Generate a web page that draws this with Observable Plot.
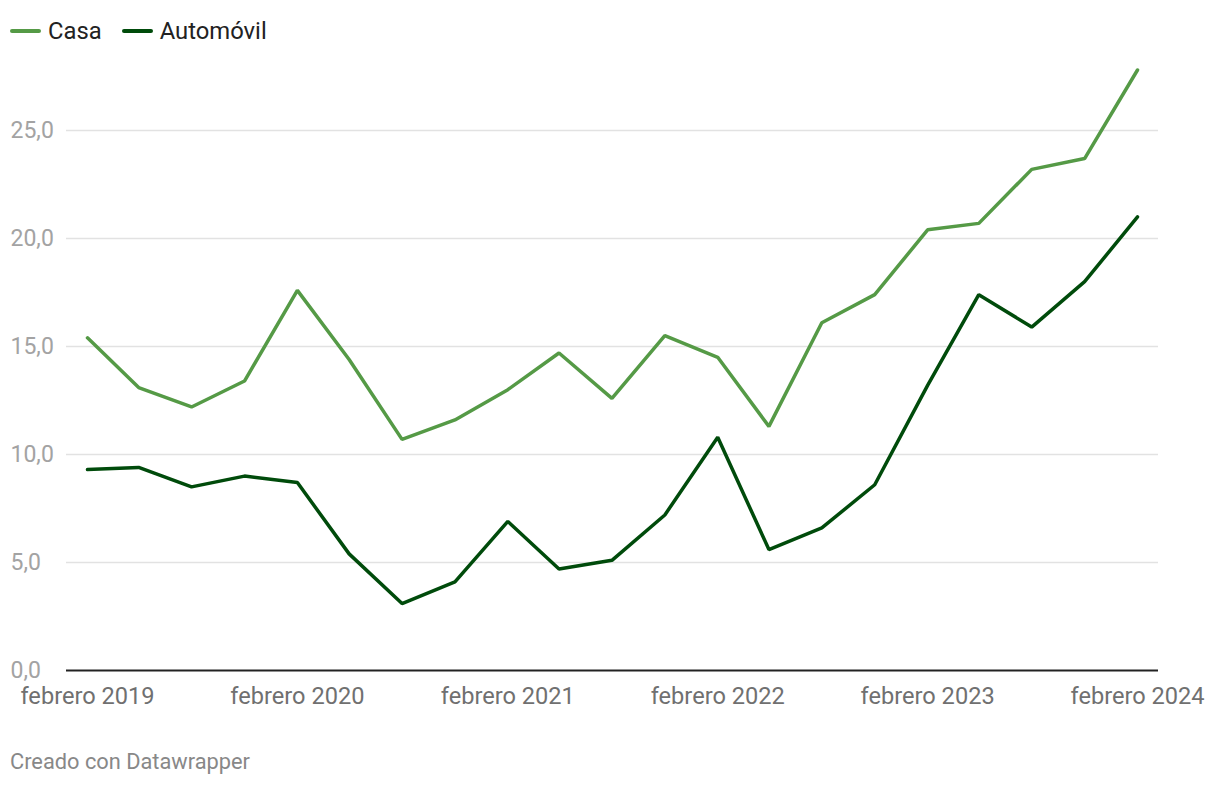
<!DOCTYPE html>
<html>
<head>
<meta charset="utf-8">
<script src="https://cdn.jsdelivr.net/npm/d3@7"></script>
<script src="https://cdn.jsdelivr.net/npm/@observablehq/plot@0.6"></script>
<style>
  html, body { margin: 0; padding: 0; background: #fff; font-family: Roboto, "Noto Sans", sans-serif; }
  #wrap { position: relative; width: 1220px; height: 786px; }
  #legend { position: absolute; left: 10px; top: 17px; display: flex; align-items: center; font-size: 23.8px; color: #222; }
  .item { display: flex; align-items: center; margin-right: 20px; }
  .swatch { width: 31px; height: 4px; border-radius: 2px; margin-right: 7px; }
  #caption { position: absolute; left: 10px; top: 749px; font-size: 21.8px; color: #888; }
  #chart { position: absolute; left: 0; top: 0; }
</style>
</head>
<body>
<div id="wrap">
  <div id="chart"></div>
  <div id="legend"></div>
  <div id="caption">Creado con Datawrapper</div>
</div>
<script>
const periods = [
  "2019-02","2019-05","2019-08","2019-11",
  "2020-02","2020-05","2020-08","2020-11",
  "2021-02","2021-05","2021-08","2021-11",
  "2022-02","2022-05","2022-08","2022-11",
  "2023-02","2023-05","2023-08","2023-11",
  "2024-02"
];
const casa = [15.4, 13.1, 12.2, 13.4, 17.6, 14.4, 10.7, 11.6, 13.0, 14.7, 12.6, 15.5, 14.5, 11.3, 16.1, 17.4, 20.4, 20.7, 23.2, 23.7, 27.8];
const automovil = [9.3, 9.4, 8.5, 9.0, 8.7, 5.4, 3.1, 4.1, 6.9, 4.7, 5.1, 7.2, 10.8, 5.6, 6.6, 8.6, 13.2, 17.4, 15.9, 18.0, 21.0];
const seriesNames = ["Casa", "Automóvil"];
const seriesColors = ["#559a46", "#004b0b"];
const yTicks = [0, 5, 10, 15, 20, 25];
const xTicks = ["2019-02","2020-02","2021-02","2022-02","2023-02","2024-02"];
const monthNames = ["enero","febrero","marzo","abril","mayo","junio","julio","agosto","septiembre","octubre","noviembre","diciembre"];

const parse = d3.utcParse("%Y-%m");
const data = [];
periods.forEach((p, i) => {
  data.push({date: parse(p), value: casa[i], serie: seriesNames[0]});
  data.push({date: parse(p), value: automovil[i], serie: seriesNames[1]});
});

const first = parse(periods[0]), last = parse(periods[periods.length - 1]);
const pad = 36.5 * 864e5;
const fmtComma = v => v.toFixed(1).replace(".", ",");
const fmtDate = d => monthNames[d.getUTCMonth()] + " " + d.getUTCFullYear();

const chart = Plot.plot({
  width: 1220,
  height: 730,
  marginLeft: 66,
  marginRight: 62,
  marginTop: 69.5,
  marginBottom: 60,
  style: {fontFamily: "Roboto, sans-serif", background: "transparent"},
  x: {type: "utc", domain: [new Date(+first - pad), new Date(+last + pad)]},
  y: {domain: [0, 27.8]},
  color: {domain: seriesNames, range: seriesColors},
  marks: [
    Plot.gridY(yTicks.filter(t => t > 0), {stroke: "#e2e2e2", strokeOpacity: 1, strokeWidth: 1.5}),
    Plot.axisY(yTicks, {
      tickSize: 0, tickPadding: 0, textAnchor: "start", dx: -56,
      tickFormat: fmtComma, fontSize: 23, fill: "#a3a3a3", label: null
    }),
    Plot.axisX(xTicks.map(parse), {
      tickSize: 0, tickPadding: 17, tickFormat: fmtDate, fontSize: 23.6, fill: "#707070", label: null
    }),
    Plot.ruleY([0], {stroke: "#222", strokeWidth: 2}),
    Plot.line(data, {x: "date", y: "value", z: "serie", stroke: "serie", strokeWidth: 3.5, strokeLinejoin: "miter", strokeLinecap: "round"})
  ]
});
document.getElementById("chart").appendChild(chart);

const legend = document.getElementById("legend");
seriesNames.forEach((n, i) => {
  const it = document.createElement("div");
  it.className = "item";
  const sw = document.createElement("div");
  sw.className = "swatch";
  sw.style.background = seriesColors[i];
  const tx = document.createElement("span");
  tx.textContent = n;
  it.appendChild(sw); it.appendChild(tx);
  legend.appendChild(it);
});
</script>
</body>
</html>
